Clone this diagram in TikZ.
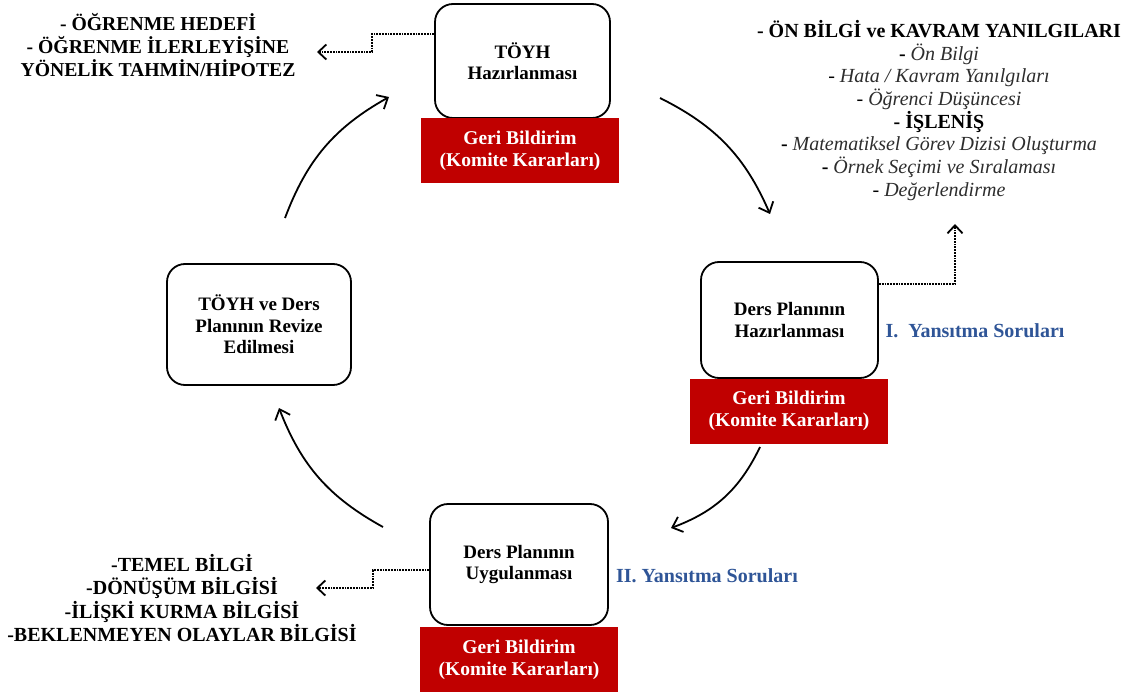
\documentclass[tikz,border=0pt]{standalone}
\usepackage{fontspec}
\setmainfont{Liberation Serif}
\usetikzlibrary{arrows.meta}
\definecolor{fbred}{RGB}{192,0,0}
\definecolor{qblue}{RGB}{47,85,151}
\definecolor{itgray}{RGB}{45,45,45}
\begin{document}
\begin{tikzpicture}[x=1pt,y=1pt,
  stage/.style={draw=black,line width=1.8pt,rounded corners=18pt,fill=white,
    align=center,font=\fontsize{19}{21.5}\selectfont\bfseries,inner sep=0pt},
  feedback/.style={fill=fbred,text=white,align=center,
    font=\fontsize{19.5}{22}\selectfont\bfseries,
    minimum width=198pt,minimum height=65pt,inner sep=0pt},
  outer/.style={align=center,font=\fontsize{19.7}{23.3}\selectfont\bfseries,inner sep=0pt},
  question/.style={text=qblue,font=\fontsize{20}{22}\selectfont\bfseries,inner sep=0pt},
  cycle/.style={line width=1.8pt,
    -{Straight Barb[length=9pt,width=16pt,line width=1.8pt]}},
  link/.style={line width=1.8pt,densely dotted,
    -{Straight Barb[length=8pt,width=15pt,line width=1.8pt]}}
]
\useasboundingbox (0,0) rectangle (1135,-695);

% cycle stages
\node[stage,minimum width=175pt,minimum height=114pt] (toyh) at (522.5,-61)
  {TÖYH\\Hazırlanması};
\node[feedback] (fb1) at (520,-150.5) {Geri Bildirim\\(Komite Kararları)};

\node[stage,minimum width=177pt,minimum height=116pt] (dph) at (789.5,-320)
  {Ders Planının\\Hazırlanması};
\node[feedback] (fb2) at (789,-411) {Geri Bildirim\\(Komite Kararları)};

\node[stage,minimum width=178pt,minimum height=121pt] (dpu) at (519,-564.5)
  {Ders Planının\\Uygulanması};
\node[feedback] (fb3) at (519,-659.5) {Geri Bildirim\\(Komite Kararları)};

\node[stage,minimum width=184pt,minimum height=121pt] (rev) at (259,-324.5)
  {TÖYH ve Ders\\Planının Revize\\Edilmesi};

% side notes
\node[outer] (goal) at (158,-45)
  {- ÖĞRENME HEDEFİ\\- ÖĞRENME İLERLEYİŞİNE\\YÖNELİK TAHMİN/HİPOTEZ};

\node[outer,font=\fontsize{20}{22.7}\selectfont] (prior) at (939,-110.5)
  {{\bfseries - ÖN BİLGİ ve KAVRAM YANILGILARI}\\
   {\bfseries -} {\itshape\color{itgray} Ön Bilgi}\\
   {- \itshape\color{itgray} Hata / Kavram Yanılgıları}\\
   {- \itshape\color{itgray} Öğrenci Düşüncesi}\\
   {\bfseries - İŞLENİŞ}\\
   {\bfseries -} {\itshape\color{itgray} Matematiksel Görev Dizisi Oluşturma}\\
   {\bfseries -} {\itshape\color{itgray} Örnek Seçimi ve Sıralaması}\\
   {- \itshape\color{itgray} Değerlendirme}};

\node[outer,font=\fontsize{20}{23.3}\selectfont\bfseries] (know) at (182,-598)
  {-TEMEL BİLGİ\\-DÖNÜŞÜM BİLGİSİ\\-İLİŞKİ KURMA BİLGİSİ\\-BEKLENMEYEN OLAYLAR BİLGİSİ};

\node[question] (q1) at (975,-331) {I.\ \ Yansıtma Soruları};
\node[question] (q2) at (707,-576) {II. Yansıtma Soruları};

% ends of the cycle arrows
\coordinate (c1s) at (285,-218);
\coordinate (c1e) at (389,-97);
\coordinate (c2s) at (660,-98);
\coordinate (c2e) at (770,-214);
\coordinate (c3s) at (760,-447);
\coordinate (c3e) at (671,-528);
\coordinate (c4s) at (383,-527);
\coordinate (c4e) at (279,-408);

\draw[cycle] (c1s) to[bend left=20] (c1e);
\draw[cycle] (c2s) to[bend left=20] (c2e);
\draw[cycle] (c3s) to[bend left=22] (c3e);
\draw[cycle] (c4s) to[bend left=20] (c4e);

% dotted links to the notes
\coordinate (goaltip) at (317,-52);
\coordinate (priortip) at (955,-224);
\coordinate (knowtip) at (316,-588);

\draw[link] ([yshift=27pt]toyh.west) -- ++(-62,0) |- (goaltip);
\draw[link] ([yshift=36pt]dph.east) -| (priortip);
\draw[link] ([yshift=-5.5pt]dpu.west) -- ++(-56,0) |- (knowtip);
\end{tikzpicture}
\end{document}
